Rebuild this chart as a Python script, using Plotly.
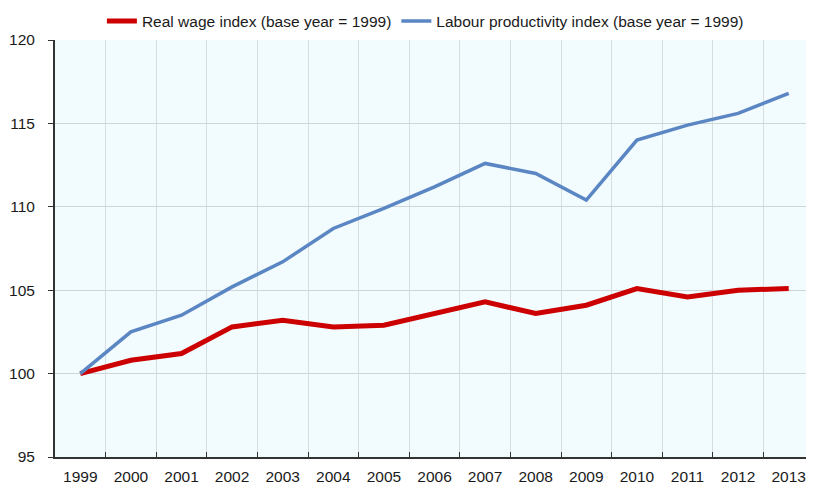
import plotly.graph_objects as go

years = ["1999", "2000", "2001", "2002", "2003", "2004", "2005", "2006",
         "2007", "2008", "2009", "2010", "2011", "2012", "2013"]
real_wage = [100.0, 100.8, 101.2, 102.8, 103.2, 102.8, 102.9, 103.6,
             104.3, 103.6, 104.1, 105.1, 104.6, 105.0, 105.1]
productivity = [100.0, 102.5, 103.5, 105.2, 106.7, 108.7, 109.9, 111.2,
                112.6, 112.0, 110.4, 114.0, 114.9, 115.6, 116.8]
y_ticks = [95, 100, 105, 110, 115, 120]

FONT = "Liberation Sans, Arial, sans-serif"

fig = go.Figure()
fig.add_trace(go.Scatter(x=years, y=real_wage, mode="lines",
                         name="Real wage index (base year = 1999)",
                         line=dict(color="#CC0000", width=5)))
fig.add_trace(go.Scatter(x=years, y=productivity, mode="lines",
                         name="Labour productivity index (base year = 1999)",
                         line=dict(color="#5A86C3", width=3.5)))

fig.update_layout(
    width=806, height=478,
    margin=dict(l=47, r=0, t=32, b=29),
    paper_bgcolor="white",
    plot_bgcolor="#F2FBFD",
    font=dict(family=FONT, size=15.5, color="#1a1a1a"),
    showlegend=True,
    legend=dict(orientation="h", x=0.488, xanchor="center",
                yref="container", y=0.972, yanchor="middle",
                font=dict(size=15.5), itemwidth=30, tracegroupgap=0,
                bgcolor="rgba(0,0,0,0)"),
)
fig.update_xaxes(
    type="category", tickson="boundaries", ticks="inside", ticklen=5,
    tickcolor="#333333", showgrid=True, gridcolor="#D8DEE0", gridwidth=1,
    showline=True, linecolor="#333333", linewidth=2,
    tickfont=dict(size=15.5), range=[-0.5, 14.5], automargin=False,
    ticklabelstandoff=4,
)
fig.update_yaxes(
    range=[95, 120], tickvals=y_ticks, ticks="outside", ticklen=5,
    tickcolor="#333333", showgrid=True, gridcolor="#D0D6D8", gridwidth=1,
    showline=True, linecolor="#333333", linewidth=2, zeroline=False,
    tickfont=dict(size=15.5), ticklabelstandoff=10, automargin=False,
)

fig.write_html("out.html")
